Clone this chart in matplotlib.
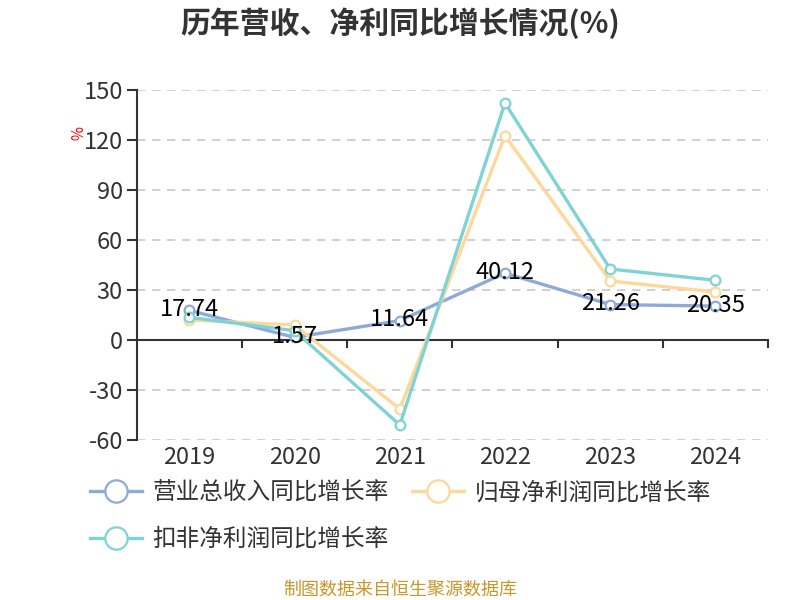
import numpy as np
import matplotlib.pyplot as plt

years = ['2019', '2020', '2021', '2022', '2023', '2024']
revenue = [17.74, 1.57, 11.64, 40.12, 21.26, 20.35]
parent_profit = [12.0, 9.0, -41.4, 122.6, 35.4, 28.8]
deducted_profit = [13.6, 5.6, -51.0, 142.2, 42.6, 35.8]
names = ['营业总收入同比增长率', '归母净利润同比增长率', '扣非净利润同比增长率']
colors = ['#8eaadb', '#fdd89b', '#7fd3d5']
yticks = [-60, -30, 0, 30, 60, 90, 120, 150]

plt.rcParams['font.family'] = ['Noto Sans CJK SC', 'DejaVu Sans']

fig = plt.figure(figsize=(8, 6), dpi=100)
ax = fig.add_axes([0.171, 0.2667, 0.789, 0.5833])

x = np.arange(len(years))
handles = []
for vals, c, n in zip([revenue, parent_profit, deducted_profit], colors, names):
    h, = ax.plot(x, vals, color=c, lw=2.4, marker='o', ms=7, mfc='white', mec=c, mew=1.6,
                 label=n, zorder=3)
    handles.append(h)

for xi, v in zip(x, revenue):
    ax.text(xi, v + 0.5, '%.2f' % v, ha='center', va='center', fontsize=17, color='black', zorder=4)

ax.set_xlim(-0.5, len(years) - 0.5)
ax.set_ylim(-60, 150)
ax.set_yticks(yticks)
ax.set_yticklabels([str(t) for t in yticks], fontsize=17, color='#333333')
for t in yticks:
    if t != 0:
        ax.axhline(t, color='#c8c8c8', lw=1.2, ls=(0, (5, 4)), zorder=1)
ax.axhline(0, color='#333333', lw=1.5, zorder=2)

# category boundary ticks on the zero line
for b in np.arange(0.5, len(years), 1.0):
    ax.plot([b, b], [0, -4.5], color='#333333', lw=1.5, clip_on=False, zorder=2)

ax.set_xticks(x)
ax.set_xticklabels(years, fontsize=17, color='#333333')
ax.tick_params(axis='x', length=0, pad=4)
ax.tick_params(axis='y', length=7, width=1.5, color='#333333', pad=3)
for s in ['top', 'right', 'bottom']:
    ax.spines[s].set_visible(False)
ax.spines['left'].set_color('#333333')
ax.spines['left'].set_linewidth(1.5)

ax.text(-0.1, 0.877, '%', transform=ax.transAxes, rotation=-90, color='red', fontsize=11,
        ha='center', va='center')

fig.text(0.5, 0.962, '历年营收、净利同比增长情况(%)', ha='center', va='center', fontsize=21.5,
         fontweight='bold', color='#333333')

leg = fig.legend([handles[0], handles[2], handles[1]], [names[0], names[2], names[1]],
                 loc='upper left', bbox_to_anchor=(0.1125, 0.198), ncol=2, frameon=False,
                 fontsize=17, handlelength=2.2, handletextpad=0.45, columnspacing=1.0,
                 labelspacing=1.0, markerscale=2.3, borderpad=0, borderaxespad=0)
for t in leg.get_texts():
    t.set_color('#333333')

fig.text(0.5, 0.017, '制图数据来自恒生聚源数据库', ha='center', va='center', fontsize=13,
         color='#c8962a')

fig.savefig('out.png', dpi=100)
